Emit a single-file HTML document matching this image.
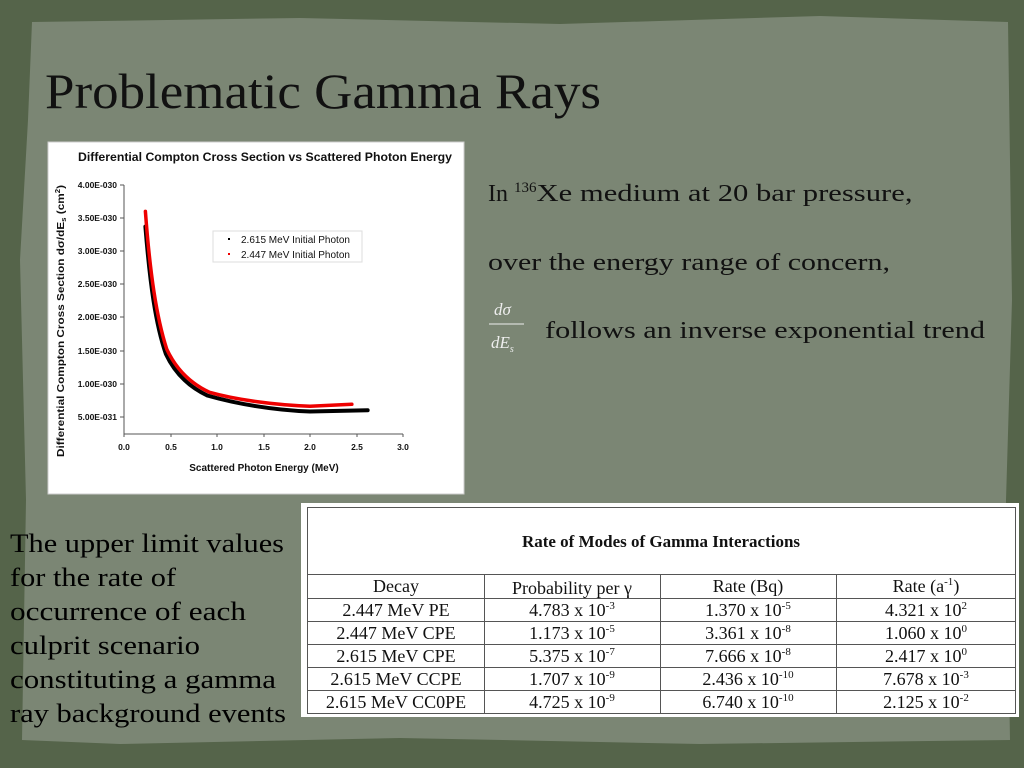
<!DOCTYPE html>
<html><head><meta charset="utf-8"><style>
html,body{margin:0;padding:0;width:1024px;height:768px;overflow:hidden;background:#56654a;}
</style></head><body>
<svg width="1024" height="768" viewBox="0 0 1024 768" xmlns="http://www.w3.org/2000/svg" font-family="Liberation Serif, serif">
<rect width="1024" height="768" fill="#55644a"/>
<path d="M32 22 L300 18 L560 24 L820 16 L1008 22 L1012 300 L1006 500 L1010 740 L700 744 L400 738 L120 744 L22 740 L26 500 L20 260 L28 120 Z" fill="#7b8674"/>
<text x="45" y="108" font-size="50" fill="#111" textLength="556" lengthAdjust="spacingAndGlyphs">Problematic Gamma Rays</text>

<!-- chart -->
<rect x="48" y="142" width="416" height="352" fill="#fff" stroke="#ccc"/>
<g font-family="Liberation Sans, sans-serif" font-weight="bold" fill="#111">
<text x="265" y="161" font-size="12" text-anchor="middle" textLength="374" lengthAdjust="spacingAndGlyphs">Differential Compton Cross Section vs Scattered Photon Energy</text>
<g font-size="8.5" text-anchor="end">
<text x="117" y="188">4.00E-030</text><text x="117" y="221">3.50E-030</text><text x="117" y="254">3.00E-030</text><text x="117" y="287">2.50E-030</text><text x="117" y="320">2.00E-030</text><text x="117" y="354">1.50E-030</text><text x="117" y="387">1.00E-030</text><text x="117" y="420">5.00E-031</text>
</g>
<g font-size="8.5" text-anchor="middle">
<text x="124" y="450">0.0</text><text x="171" y="450">0.5</text><text x="217" y="450">1.0</text><text x="264" y="450">1.5</text><text x="310" y="450">2.0</text><text x="357" y="450">2.5</text><text x="403" y="450">3.0</text>
</g>
<text x="264" y="471" font-size="10" text-anchor="middle">Scattered Photon Energy (MeV)</text>
<text transform="translate(64,321) rotate(-90)" font-size="10.5" text-anchor="middle" textLength="272" lengthAdjust="spacingAndGlyphs">Differential Compton Cross Section dσ/dE<tspan font-size="7" dy="2">s</tspan><tspan dy="-2"> (cm</tspan><tspan font-size="7" dy="-4">2</tspan><tspan dy="4">)</tspan></text>
</g>
<g stroke="#555" stroke-width="1" fill="none">
<path d="M124 185 V434 H403"/>
<path d="M124 185h-4M124 218h-4M124 251h-4M124 284h-4M124 317h-4M124 351h-4M124 384h-4M124 417h-4"/>
<path d="M124 434v3M171 434v3M217 434v3M264 434v3M310 434v3M357 434v3M403 434v3"/>
</g>
<g transform="translate(124,450) scale(93,-66.3)" fill="none" stroke-linecap="round">
<path vector-effect="non-scaling-stroke" stroke="#000" stroke-width="4" d="M0.23 3.37 C0.28 2.5 0.34 1.9 0.45 1.45 C0.55 1.15 0.7 0.95 0.9 0.82 C1.2 0.7 1.6 0.6 2.0 0.58 L2.62 0.6"/>
<path vector-effect="non-scaling-stroke" stroke="#e00" stroke-width="3.5" d="M0.23 3.6 C0.28 2.65 0.35 2.0 0.46 1.52 C0.56 1.22 0.72 1.0 0.92 0.87 C1.2 0.76 1.6 0.68 2.0 0.66 L2.45 0.69"/>
</g>
<rect x="213" y="231" width="149" height="31" fill="#fff" stroke="#ddd"/>
<rect x="228" y="238" width="2" height="2" fill="#000"/><rect x="228" y="253" width="2" height="2" fill="#e00"/>
<g font-family="Liberation Sans, sans-serif" font-size="10" fill="#111">
<text x="241" y="243">2.615 MeV Initial Photon</text><text x="241" y="258">2.447 MeV Initial Photon</text>
</g>

<!-- right text -->
<g font-size="24" fill="#111">
<text x="488" y="201">In <tspan font-size="15" dy="-9">136</tspan><tspan dy="9" textLength="376" lengthAdjust="spacingAndGlyphs">Xe  medium at 20 bar pressure,</tspan></text>
<text x="488" y="270" textLength="402" lengthAdjust="spacingAndGlyphs">over the energy range of concern,</text>
<text x="545" y="338" textLength="440" lengthAdjust="spacingAndGlyphs">follows an inverse exponential trend</text>
</g>
<g font-size="17" font-style="italic" fill="#eee">
<text x="494" y="315">dσ</text><line x1="489" y1="324" x2="524" y2="324" stroke="#eee" stroke-width="1"/>
<text x="491" y="348">dE<tspan font-size="10" dy="4">s</tspan></text>
</g>
<!-- left text -->
<g font-size="26" fill="#000">
<text x="10" y="552" textLength="274" lengthAdjust="spacingAndGlyphs">The upper limit values</text>
<text x="10" y="586" textLength="166" lengthAdjust="spacingAndGlyphs">for the rate of</text>
<text x="10" y="620" textLength="236" lengthAdjust="spacingAndGlyphs">occurrence  of each</text>
<text x="10" y="654" textLength="190" lengthAdjust="spacingAndGlyphs">culprit scenario</text>
<text x="10" y="688" textLength="266" lengthAdjust="spacingAndGlyphs">constituting a gamma</text>
<text x="10" y="722" textLength="276" lengthAdjust="spacingAndGlyphs">ray background events</text>
</g>

<!-- table -->
<rect x="301" y="503" width="718" height="214" fill="#fff"/>
<g stroke="#555" stroke-width="1" fill="none">
<rect x="307.5" y="507.5" width="708" height="206"/>
<path d="M307 574.5H1016M307 598.5H1016M307 621.5H1016M307 644.5H1016M307 667.5H1016M307 690.5H1016"/>
<path d="M484.5 574V714M660.5 574V714M836.5 574V714"/>
</g>
<text x="661" y="547" font-size="17" font-weight="bold" text-anchor="middle" fill="#111">Rate of Modes of Gamma Interactions</text>
<g font-size="18" text-anchor="middle" fill="#111">
<text x="396" y="592">Decay</text><text x="572" y="594">Probability per γ</text><text x="748" y="592">Rate (Bq)</text><text x="926" y="592">Rate (a<tspan font-size="11" dy="-7">-1</tspan><tspan dy="7">)</tspan></text>
<text x="396" y="616">2.447 MeV PE</text><text x="572" y="616">4.783 x 10<tspan font-size="11" dy="-7">-3</tspan></text><text x="748" y="616">1.370 x 10<tspan font-size="11" dy="-7">-5</tspan></text><text x="926" y="616">4.321 x 10<tspan font-size="11" dy="-7">2</tspan></text>
<text x="396" y="639">2.447 MeV CPE</text><text x="572" y="639">1.173 x 10<tspan font-size="11" dy="-7">-5</tspan></text><text x="748" y="639">3.361 x 10<tspan font-size="11" dy="-7">-8</tspan></text><text x="926" y="639">1.060 x 10<tspan font-size="11" dy="-7">0</tspan></text>
<text x="396" y="662">2.615 MeV CPE</text><text x="572" y="662">5.375 x 10<tspan font-size="11" dy="-7">-7</tspan></text><text x="748" y="662">7.666 x 10<tspan font-size="11" dy="-7">-8</tspan></text><text x="926" y="662">2.417 x 10<tspan font-size="11" dy="-7">0</tspan></text>
<text x="396" y="685">2.615 MeV CCPE</text><text x="572" y="685">1.707 x 10<tspan font-size="11" dy="-7">-9</tspan></text><text x="748" y="685">2.436 x 10<tspan font-size="11" dy="-7">-10</tspan></text><text x="926" y="685">7.678 x 10<tspan font-size="11" dy="-7">-3</tspan></text>
<text x="396" y="708">2.615 MeV CC0PE</text><text x="572" y="708">4.725 x 10<tspan font-size="11" dy="-7">-9</tspan></text><text x="748" y="708">6.740 x 10<tspan font-size="11" dy="-7">-10</tspan></text><text x="926" y="708">2.125 x 10<tspan font-size="11" dy="-7">-2</tspan></text>
</g>
</svg>
</body></html>
